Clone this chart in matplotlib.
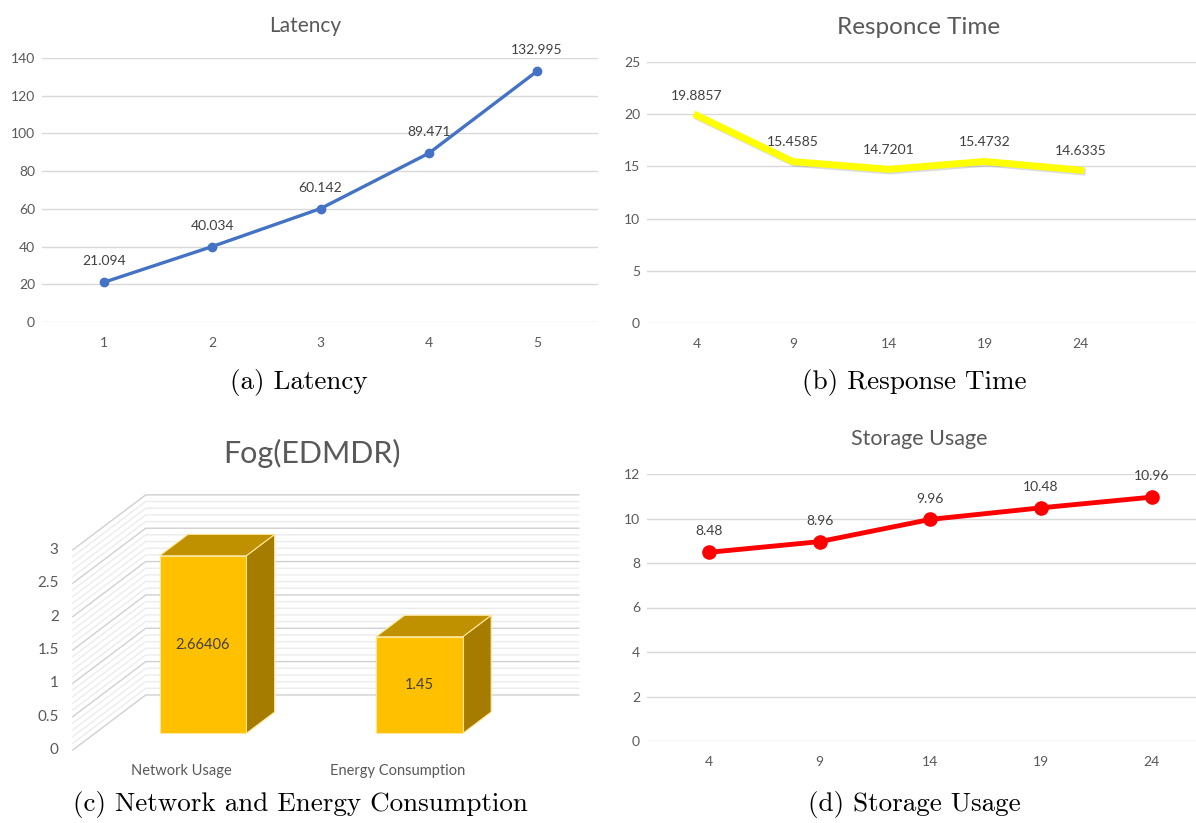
import numpy as np
import matplotlib
matplotlib.use("Agg")
import matplotlib.pyplot as plt
import matplotlib.patheffects as pe
from matplotlib.patches import Polygon

# data
lat_x = ["1", "2", "3", "4", "5"]
lat_y = [21.094, 40.034, 60.142, 89.471, 132.995]

resp_x = ["4", "9", "14", "19", "24"]
resp_y = [19.8857, 15.4585, 14.7201, 15.4732, 14.6335]

fog_labels = ["Network Usage", "Energy Consumption"]
fog_vals = [2.66406, 1.45]

stor_x = ["4", "9", "14", "19", "24"]
stor_y = [8.48, 8.96, 9.96, 10.48, 10.96]

plt.rcParams['font.family'] = ['Lato', 'DejaVu Sans']

W, H = 1196, 823
fig = plt.figure(figsize=(W / 100, H / 100), dpi=100)
fig.patch.set_facecolor("white")


def px_axes(left, top, right, bottom):
    return fig.add_axes([left / W, 1 - bottom / H, (right - left) / W, (bottom - top) / H])


def px_text(x, y, s, **kw):
    return fig.text(x / W, 1 - y / H, s, **kw)


tick_col = "#595959"
lab_col = "#404040"
grid_col = "#D9D9D9"


def excel_line(ax, cats, vals, ylim, yticks, xlim, color, lw, ms, lab_off, fs=10):
    x = np.arange(len(cats))
    ax.set_xlim(*xlim)
    ax.set_ylim(*ylim)
    ax.set_yticks(yticks)
    ax.set_xticks(x)
    ax.set_xticklabels(cats)
    ax.yaxis.grid(True, color=grid_col, lw=1)
    ax.set_axisbelow(True)
    for s in ax.spines.values():
        s.set_visible(False)
    ax.tick_params(length=0, colors=tick_col, labelsize=fs)
    ax.tick_params(axis="x", pad=11)
    ax.tick_params(axis="y", pad=5)
    line, = ax.plot(x, vals, color=color, lw=lw, marker="o" if ms else None,
                    ms=ms, solid_joinstyle="round", clip_on=False, zorder=3)
    for xi, v in zip(x, vals):
        ax.annotate(f"{v:g}", (xi, v), xytext=(0, lab_off), textcoords="offset points",
                    ha="center", va="center", fontsize=fs, color=lab_col)
    return line


# (a) Latency
ax1 = px_axes(42, 58, 598, 322)
excel_line(ax1, lat_x, lat_y, (0, 140), range(0, 141, 20), (-0.573, 4.563),
           "#4472C4", 2.4, 6, 15)
px_text(305, 26, "Latency", ha="center", va="center", fontsize=15, color=tick_col)

# (b) Response time
ax2 = px_axes(647, 62, 1196, 323)
ln = excel_line(ax2, resp_x, resp_y, (0, 25), range(0, 26, 5), (-0.52, 5.2),
                "#FFFF00", 5, 0, 14)
ln.set_path_effects([pe.SimpleLineShadow(offset=(1, -1.2), shadow_color="#9A9A9A", alpha=0.35),
                     pe.Normal()])
px_text(919, 27, "Responce Time", ha="center", va="center", fontsize=17.5, color=tick_col)

# (d) Storage usage
ax4 = px_axes(647, 474, 1196, 741)
excel_line(ax4, stor_x, stor_y, (0, 12), range(0, 13, 2), (-0.56, 4.40),
           "#FF0000", 3.5, 9.5, 15)
px_text(919, 439, "Storage Usage", ha="center", va="center", fontsize=15.5, color=tick_col)

# (c) 3D-look bar chart
ax3 = px_axes(0, 470, 598, 762)
ax3.set_xlim(-0.836, 1.926)
ax3.set_ylim(-0.18, 4.198)
ax3.axis("off")
DX, DY = 0.337, 0.825
x0, x1 = -0.5, 1.5
for v in np.arange(0, 3.001, 0.1):
    major = abs(v * 2 - round(v * 2)) < 1e-6
    c = "#D0D0D0" if major else "#ECECEC"
    ax3.plot([x0, x0 + DX, x1 + DX], [v, v + DY, v + DY], color=c, lw=1, zorder=1)
for v in np.arange(0, 3.001, 0.5):
    ax3.text(x0 - 0.065, v, f"{v:g}", ha="right", va="center", fontsize=11, color=tick_col)

bw = 0.40
f0, f1 = 0.30, 0.69
for i, (name, val) in enumerate(zip(fog_labels, fog_vals)):
    fx, fy = f0 * DX, f0 * DY
    bx, by = f1 * DX, f1 * DY
    l, r = i - bw / 2, i + bw / 2
    front = [(l + fx, fy), (r + fx, fy), (r + fx, val + fy), (l + fx, val + fy)]
    top = [(l + fx, val + fy), (r + fx, val + fy), (r + bx, val + by), (l + bx, val + by)]
    side = [(r + fx, fy), (r + bx, by), (r + bx, val + by), (r + fx, val + fy)]
    ax3.add_patch(Polygon(side, closed=True, fc="#A67C00", ec="#FFE699", lw=0.8, zorder=3))
    ax3.add_patch(Polygon(top, closed=True, fc="#BF9000", ec="#FFE699", lw=0.8, zorder=3))
    ax3.add_patch(Polygon(front, closed=True, fc="#FFC000", ec="#FFE699", lw=0.8, zorder=4))
    ax3.text(i + fx, val / 2 + fy, f"{val:g}", ha="center", va="center",
             fontsize=10.5, color=lab_col, zorder=5)
    ax3.text(i, -0.315, name, ha="center", va="center", fontsize=10.5, color=tick_col)

px_text(312, 453, "Fog(EDMDR)", ha="center", va="center", fontsize=22, color=tick_col)

# captions
cap = dict(ha="center", va="center", fontsize=19.5, family="cmr10", color="black")
px_text(299, 383, "(a) Latency", **cap)
px_text(914, 383, "(b) Response Time", **cap)
px_text(300, 805, "(c) Network and Energy Consumption", **cap)
px_text(914, 805, "(d) Storage Usage", **cap)

fig.savefig("out.png", dpi=100, facecolor="white")
